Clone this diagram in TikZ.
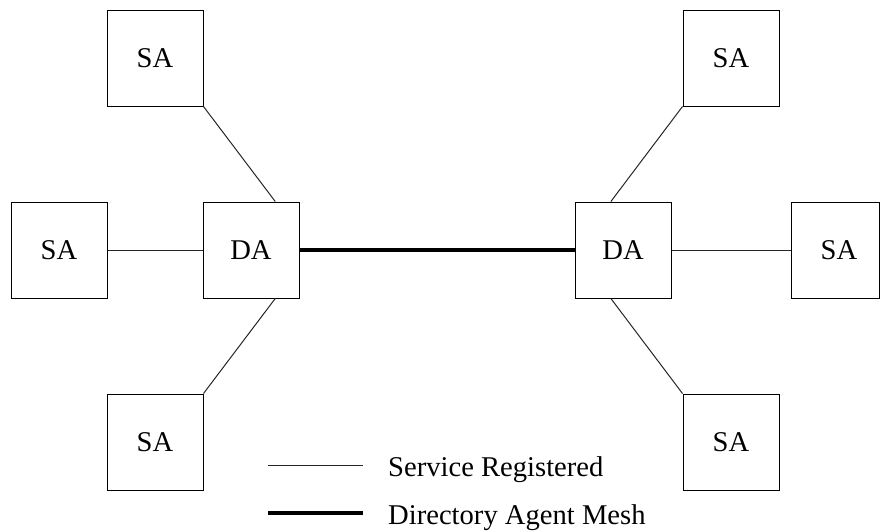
\documentclass[tikz,border=0pt]{standalone}
\usepackage{fontspec}
\setmainfont{Liberation Serif}
\usetikzlibrary{calc}
\begin{document}
\begin{tikzpicture}[x=1pt,y=-1pt,
  agentbox/.style={draw=black,line width=1pt,minimum width=96pt,minimum height=96pt,inner sep=0pt,font=\fontsize{28.6}{34}\selectfont},
  reg/.style={line width=1pt,draw=black!85},
  mesh/.style={line width=4.5pt,draw=black},
  legtext/.style={anchor=base west,inner sep=0pt,font=\fontsize{28.6}{34}\selectfont}]
\useasboundingbox (0,0) rectangle (880,531);
\node[agentbox] (SAtl) at (155,58) {SA};
\node[agentbox] (SAl) at (59,250) {SA};
\node[agentbox] (DAl) at (251,250) {DA};
\node[agentbox] (SAbl) at (155,442) {SA};
\node[agentbox] (DAr) at (623,250) {DA};
\node[agentbox,minimum width=88pt] (SAr) at (835,250) {\hspace*{8pt}SA};
\node[agentbox] (SAtr) at (731,58) {SA};
\node[agentbox] (SAbr) at (731,442) {SA};
\draw[reg] (SAtl.south east) -- ($(DAl.north west)!0.75!(DAl.north east)$);
\draw[reg] (SAbl.north east) -- ($(DAl.south west)!0.75!(DAl.south east)$);
\draw[reg] (SAl.east) -- (DAl.west);
\draw[mesh] (DAl.east) -- (DAr.west);
\draw[reg] (SAtr.south west) -- ($(DAr.north west)!0.375!(DAr.north east)$);
\draw[reg] (SAbr.north west) -- ($(DAr.south west)!0.375!(DAr.south east)$);
\draw[reg] (DAr.east) -- (SAr.west);
\coordinate (l1a) at (268,465);
\coordinate (l1b) at (363,465);
\coordinate (l2a) at (268,513);
\coordinate (l2b) at (363,513);
\draw[reg] (l1a) -- (l1b);
\draw[mesh] (l2a) -- (l2b);
\node[legtext] (t1) at (388,476.7) {Service Registered};
\node[legtext] (t2) at (388,524) {Directory Agent Mesh};
\end{tikzpicture}
\end{document}
